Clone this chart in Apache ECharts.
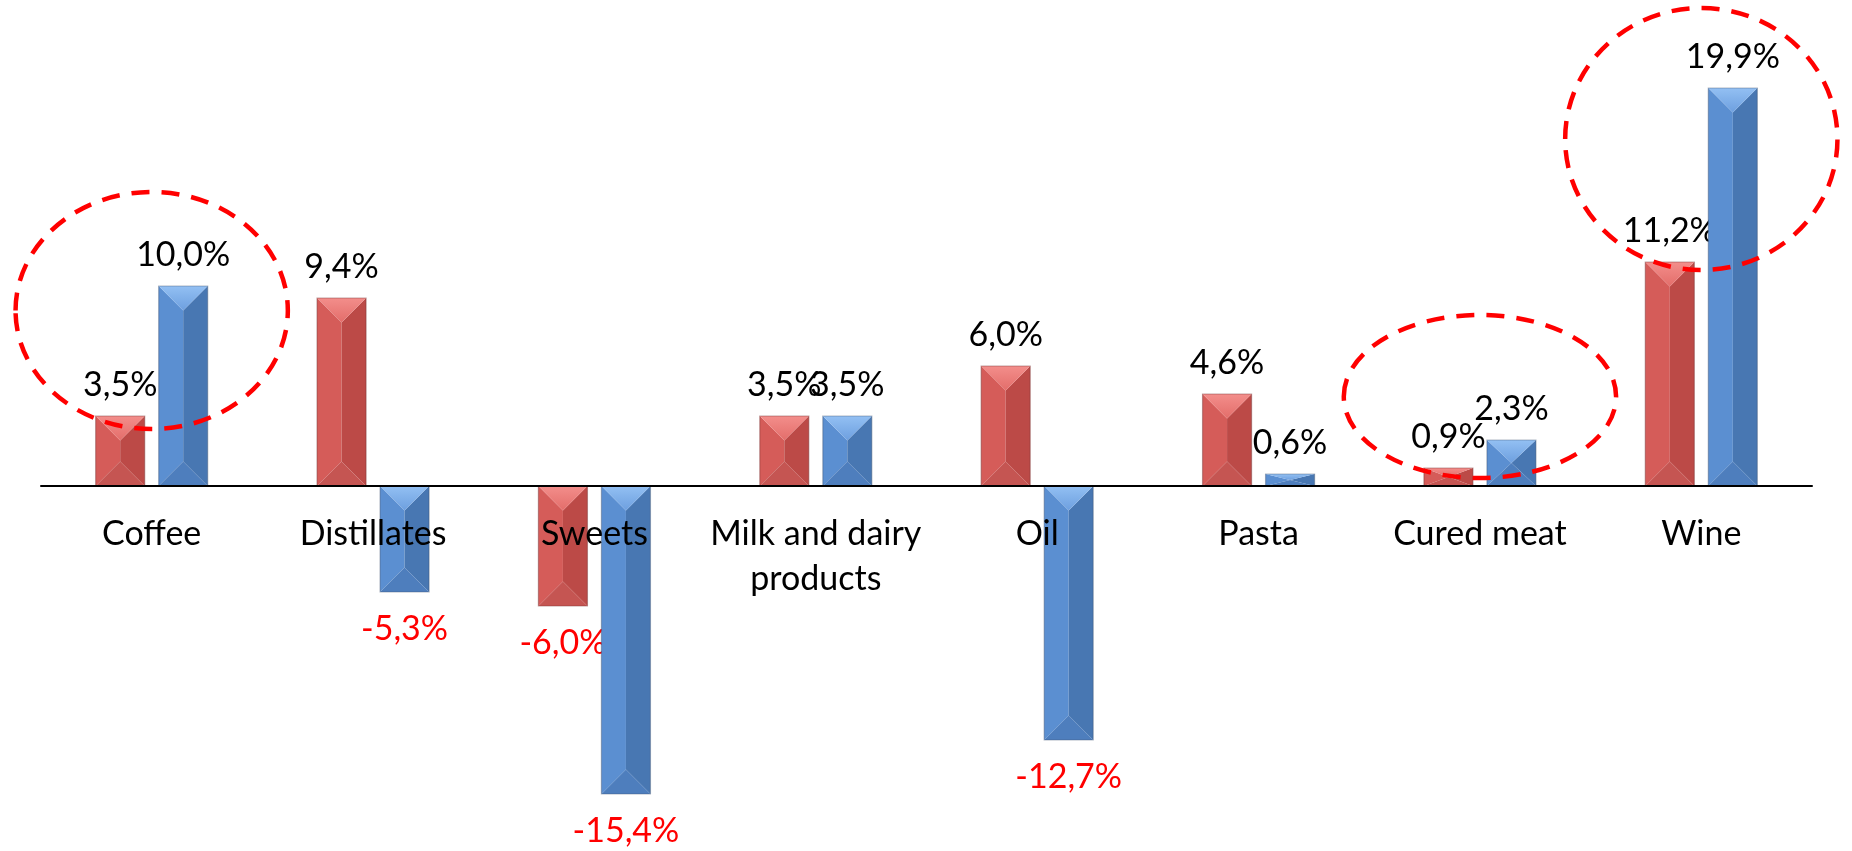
<!DOCTYPE html>
<html>
<head>
<meta charset="utf-8">
<script src="https://cdn.jsdelivr.net/npm/echarts@6/dist/echarts.min.js"></script>
<style>
  html, body { margin: 0; padding: 0; background: #fff; }
  #chart { width: 1852px; height: 851px; }
</style>
</head>
<body>
<div id="chart"></div>
<script>
// categories and the two series (percent change)
var categories = ['Coffee', 'Distillates', 'Sweets', 'Milk and dairy\nproducts', 'Oil', 'Pasta', 'Cured meat', 'Wine'];
var redValues = [3.5, 9.4, -6.0, 3.5, 6.0, 4.6, 0.9, 11.2];
var blueValues = [10.0, -5.3, -15.4, 3.5, -12.7, 0.6, 2.3, 19.9];

// dashed highlight rings: category index, lower / upper value reached
var ringCats = [0, 6, 7];
var ringLow = [2.85, 0.4, 10.8];
var ringHigh = [14.7, 8.55, 23.9];

var FONT = 'Lato, "Open Sans", sans-serif';
var Y_MIN = -17, Y_MAX = 24;

var palettes = {
	red: { top: '#f38e8b', topEnd: '#e36d6a', left: '#d55c59', right: '#bc4a47', bottom: '#c55552', edge: 'rgba(120,50,50,0.45)' },
	blue: { top: '#93c0f3', topEnd: '#6d9fdf', left: '#5b8fd1', right: '#4877b2', bottom: '#4e7ebd', edge: 'rgba(60,80,110,0.4)' }
};

function fmt(v) {
	return v.toFixed(1).replace('.', ',') + '%';
}

var chart = {
	init: function () {
		this.render();
	},
	render: function () {
		var el = document.getElementById('chart');
		var ch = echarts.init(el);
		ch.setOption(this.buildOption());
	},
	barRenderer: function (side, pal) {
		return function (params, api) {
			var cat = api.value(0), val = api.value(1);
			var base = api.coord([cat, 0]);
			var tip = api.coord([cat, val]);
			var band = api.size([1, 0])[0];
			var w = band * 0.2215;
			var gap = w * 0.285;
			var cx = base[0] + side * (gap / 2 + w / 2);
			var x0 = cx - w / 2, x1 = cx + w / 2;
			var yT = Math.min(base[1], tip[1]), yB = Math.max(base[1], tip[1]);
			var h = yB - yT;
			var d = Math.min(w / 2, h / 2);
			var aT = [cx, yT + d], aB = [cx, yB - d];
			var children = [
				{ type: 'polygon', shape: { points: [[x0, yT], aT, aB, [x0, yB]] }, style: { fill: pal.left } },
				{ type: 'polygon', shape: { points: [[x1, yT], aT, aB, [x1, yB]] }, style: { fill: pal.right } },
				{ type: 'polygon', shape: { points: [[x0, yB], [x1, yB], aB] }, style: { fill: pal.bottom } },
				{ type: 'polygon', shape: { points: [[x0, yT], [x1, yT], aT] }, style: {
					fill: new echarts.graphic.LinearGradient(0, 0, 0, 1, [
						{ offset: 0, color: pal.top }, { offset: 1, color: pal.topEnd }
					])
				} },
				{ type: 'rect', shape: { x: x0, y: yT, width: w, height: h }, style: { fill: 'none', stroke: pal.edge, lineWidth: 1.2 } },
				{ type: 'text', style: {
					text: fmt(val),
					x: cx,
					y: val >= 0 ? yT - 31 : yB + 37,
					align: 'center',
					verticalAlign: 'middle',
					fill: val >= 0 ? '#000' : '#ff0000',
					font: '34px ' + FONT
				} }
			];
			return { type: 'group', children: children };
		};
	},
	ringRenderer: function (params, api) {
		var cat = api.value(0);
		var pLo = api.coord([cat, api.value(1)]);
		var pHi = api.coord([cat, api.value(2)]);
		var band = api.size([1, 0])[0];
		return {
			type: 'ellipse',
			shape: { cx: pLo[0], cy: (pLo[1] + pHi[1]) / 2, rx: band * 0.615, ry: (pLo[1] - pHi[1]) / 2 },
			style: { fill: 'none', stroke: '#ff0000', lineWidth: 4.5, lineDash: [18, 12] }
		};
	},
	buildOption: function () {
		var redData = redValues.map(function (v, i) { return [i, v]; });
		var blueData = blueValues.map(function (v, i) { return [i, v]; });
		var ringData = ringCats.map(function (c, i) { return [c, ringLow[i], ringHigh[i]]; });

		var gridTop = 6, gridBottom = 25;
		var plotH = 851 - gridTop - gridBottom;
		// lift the category axis from the grid bottom up to the zero line
		var zeroLift = plotH * (0 - Y_MIN) / (Y_MAX - Y_MIN);

		return {
			backgroundColor: '#ffffff',
			animation: false,
			grid: { left: 41, right: 40, top: gridTop, bottom: gridBottom, outerBoundsMode: 'none', containLabel: false },
			xAxis: {
				type: 'category',
				data: categories,
				position: 'bottom',
				offset: -zeroLift,
				z: 10,
				axisLine: { onZero: false, lineStyle: { color: '#000', width: 2 } },
				axisTick: { show: false },
				axisLabel: {
					color: '#000',
					fontFamily: FONT,
					fontSize: 34,
					lineHeight: 45,
					margin: 26,
					interval: 0
				}
			},
			yAxis: {
				type: 'value',
				min: Y_MIN,
				max: Y_MAX,
				show: false,
				splitLine: { show: false }
			},
			series: [
				{ type: 'custom', name: 'red', data: redData, renderItem: this.barRenderer(-1, palettes.red), clip: false, z: 2 },
				{ type: 'custom', name: 'blue', data: blueData, renderItem: this.barRenderer(1, palettes.blue), clip: false, z: 2 },
				{ type: 'custom', name: 'rings', data: ringData, renderItem: this.ringRenderer, clip: false, z: 3, silent: true }
			]
		};
	}
};

window.onload = function () {
	chart.init();
};
</script>
</body>
</html>
